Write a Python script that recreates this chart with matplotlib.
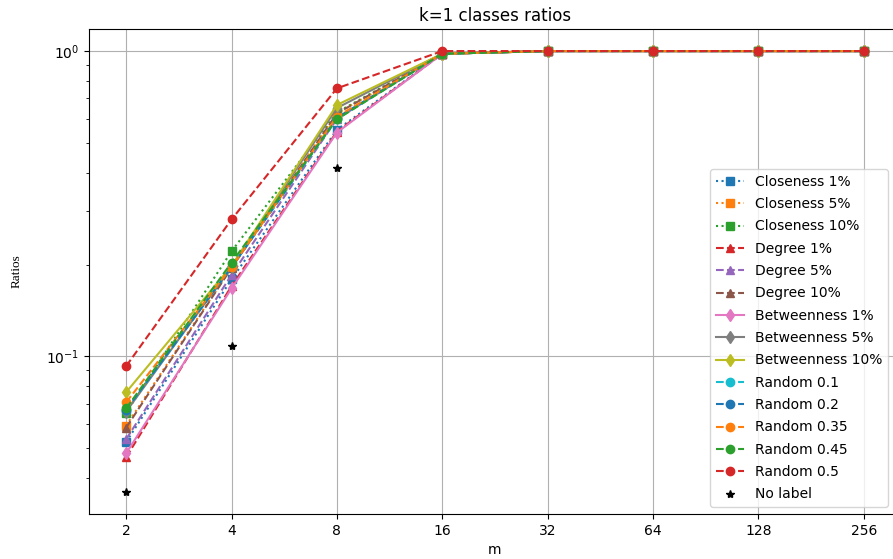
import numpy as np
import matplotlib
matplotlib.use("Agg")
import matplotlib.pyplot as plt
from matplotlib.ticker import FixedLocator, FixedFormatter, NullLocator

m_values = [2, 4, 8, 16, 32, 64, 128, 256]
m_labels = ["2", "4", "8", "16", "32", "64", "128", "256"]

closeness_1 = [0.0525, 0.179, 0.552, 0.98, 1.0, 1.0, 1.0, 1.0]
closeness_5 = [0.0594, 0.196, 0.625, 0.98, 1.0, 1.0, 1.0, 1.0]
closeness_10 = [0.0655, 0.221, 0.630, 0.98, 1.0, 1.0, 1.0, 1.0]
degree_1 = [0.0468, 0.170, 0.545, 0.98, 1.0, 1.0, 1.0, 1.0]
degree_5 = [0.0536, 0.185, 0.600, 0.98, 1.0, 1.0, 1.0, 1.0]
degree_10 = [0.0585, 0.195, 0.625, 0.98, 1.0, 1.0, 1.0, 1.0]
betweenness_1 = [0.0482, 0.167, 0.541, 0.98, 1.0, 1.0, 1.0, 1.0]
betweenness_5 = [0.0660, 0.197, 0.651, 0.98, 1.0, 1.0, 1.0, 1.0]
betweenness_10 = [0.0764, 0.198, 0.666, 0.98, 1.0, 1.0, 1.0, 1.0]
random_01 = [0.0670, 0.196, 0.600, 0.98, 1.0, 1.0, 1.0, 1.0]
random_02 = [0.0670, 0.196, 0.605, 0.98, 1.0, 1.0, 1.0, 1.0]
random_035 = [0.0708, 0.196, 0.610, 0.98, 1.0, 1.0, 1.0, 1.0]
random_045 = [0.0676, 0.203, 0.598, 0.98, 1.0, 1.0, 1.0, 1.0]
random_05 = [0.0930, 0.281, 0.755, 1.0, 1.0, 1.0, 1.0, 1.0]
no_label = [0.036, 0.108, 0.414, np.nan, np.nan, np.nan, np.nan, np.nan]

series = [
    ("Closeness 1%", closeness_1, ":", "s", "C0"),
    ("Closeness 5%", closeness_5, ":", "s", "C1"),
    ("Closeness 10%", closeness_10, ":", "s", "C2"),
    ("Degree 1%", degree_1, "--", "^", "C3"),
    ("Degree 5%", degree_5, "--", "^", "C4"),
    ("Degree 10%", degree_10, "--", "^", "C5"),
    ("Betweenness 1%", betweenness_1, "-", "d", "C6"),
    ("Betweenness 5%", betweenness_5, "-", "d", "C7"),
    ("Betweenness 10%", betweenness_10, "-", "d", "C8"),
    ("Random 0.1", random_01, "--", "o", "C9"),
    ("Random 0.2", random_02, "--", "o", "C0"),
    ("Random 0.35", random_035, "--", "o", "C1"),
    ("Random 0.45", random_045, "--", "o", "C2"),
    ("Random 0.5", random_05, "--", "o", "C3"),
]

fig = plt.figure(figsize=(8.93, 5.59), dpi=100)
ax = fig.add_axes([0.1, 0.0805, 0.9086, 0.8676])

for label, vals, ls, mk, col in series:
    ax.plot(m_values, vals, linestyle=ls, marker=mk, color=col, label=label)
ax.plot(m_values, no_label, linestyle="none", marker="*", color="black", label="No label")

ax.set_yscale("log")
ax.set_xscale("log", base=2)
ax.xaxis.set_major_locator(FixedLocator(m_values))
ax.xaxis.set_major_formatter(FixedFormatter(m_labels))
ax.xaxis.set_minor_locator(NullLocator())
ax.grid(True)
ax.set_title("k=1 classes ratios")
ax.set_xlabel("m")
ax.set_ylabel("Ratios", family="Liberation Serif", fontsize=9.5, labelpad=17)
ax.legend(loc="lower right", bbox_to_anchor=(0.984, 0.0144), borderaxespad=0,
          fontsize=10, labelspacing=0.6)

fig.savefig("out.png", dpi=100)
